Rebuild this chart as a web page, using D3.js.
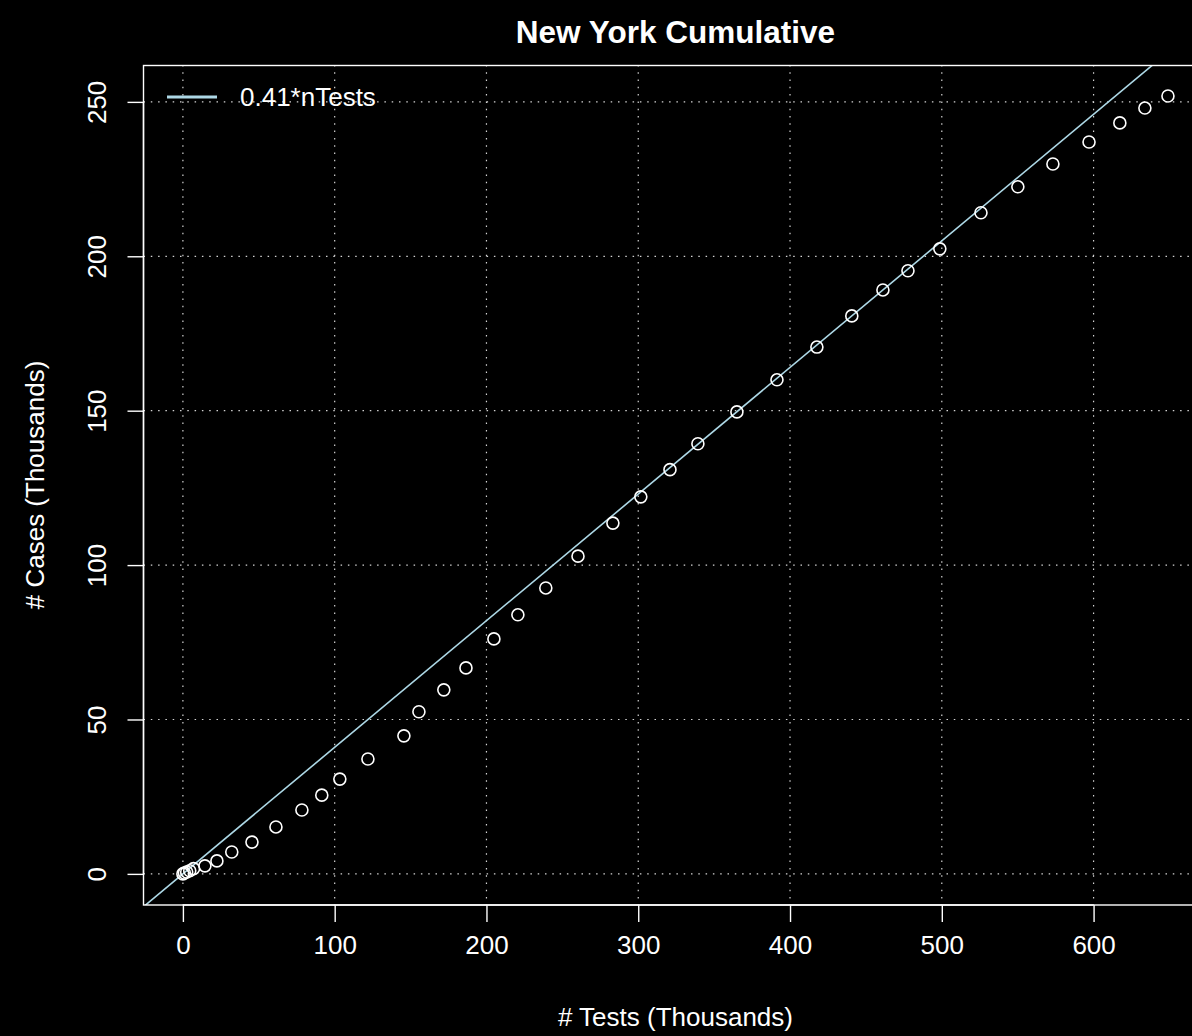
<!DOCTYPE html>
<html><head><meta charset="utf-8">
<script src="https://cdn.jsdelivr.net/npm/d3@7"></script>
<style>html,body{margin:0;padding:0;background:#000;}svg{display:block;}</style>
</head><body>
<script>
const testsK = [0, 1, 2.5, 4.5, 7, 14.5, 22.4, 32.2, 45.5, 61.3, 78.4, 91.5, 103.4, 121.9, 145.6, 155.5, 171.9, 186.5, 204.9, 220.7, 239.1, 260.3, 283.3, 301.7, 320.9, 339.3, 365.0, 391.4, 417.7, 440.7, 461.2, 477.7, 498.7, 525.8, 550.1, 573.2, 597.0, 617.3, 633.8, 649.0];
const casesK = [0, 0.3, 0.6, 1.0, 1.7, 2.6, 4.2, 7.1, 10.3, 15.2, 20.7, 25.5, 30.7, 37.2, 44.7, 52.5, 59.6, 66.7, 76.1, 83.9, 92.6, 102.9, 113.6, 122.1, 130.9, 139.3, 149.6, 160.0, 170.6, 180.7, 189.1, 195.3, 202.4, 214.1, 222.5, 229.9, 237.0, 243.2, 248.0, 251.9];
const slope = 0.41;
const xTicks = [0, 100, 200, 300, 400, 500, 600];
const yTicks = [0, 50, 100, 150, 200, 250];
const titleText = "New York Cumulative";
const xLabel = "# Tests (Thousands)";
const yLabel = "# Cases (Thousands)";
const legendLabel = "0.41*nTests";

const W = 1192, H = 1036;
const xmax = d3.max(testsK), ymax = d3.max(casesK);
const pxPerX = 1.5178, pxPerY = 3.088;
const L = 143.5, B = 905;
const R = L + 1.08 * xmax * pxPerX;
const T = B - 1.08 * ymax * pxPerY;
const font = "'Liberation Sans', Arial, Helvetica, sans-serif";
const fs = 26;

const svg = d3.select("body").append("svg").attr("width", W).attr("height", H)
  .style("background", "#000");
svg.append("rect").attr("width", W).attr("height", H).attr("fill", "#000");

const x = d3.scaleLinear().domain([-0.04 * xmax, 1.04 * xmax]).range([L, R]);
const y = d3.scaleLinear().domain([-0.04 * ymax, 1.04 * ymax]).range([B, T]);

svg.append("defs").append("clipPath").attr("id", "plotclip")
  .append("rect").attr("x", L).attr("y", T).attr("width", R - L).attr("height", B - T);

// grid
const grid = svg.append("g").attr("stroke", "#d3d3d3").attr("stroke-width", 1.2)
  .attr("stroke-dasharray", "1.5,5.8");
xTicks.forEach(t => grid.append("line").attr("x1", x(t)).attr("x2", x(t)).attr("y1", T).attr("y2", B));
yTicks.forEach(t => grid.append("line").attr("x1", L).attr("x2", R).attr("y1", y(t)).attr("y2", y(t)));

// fitted line
const xd = x.domain();
svg.append("line").attr("clip-path", "url(#plotclip)")
  .attr("x1", x(xd[0])).attr("y1", y(slope * xd[0]))
  .attr("x2", x(xd[1])).attr("y2", y(slope * xd[1]))
  .attr("stroke", "#add8e6").attr("stroke-width", 1.6);

// points
svg.append("g").selectAll("circle").data(testsK).join("circle")
  .attr("cx", (d) => x(d)).attr("cy", (d, i) => y(casesK[i])).attr("r", 6)
  .attr("fill", "none").attr("stroke", "#fff").attr("stroke-width", 1.6);

// box
svg.append("rect").attr("x", L).attr("y", Math.round(T) + 0.5).attr("width", R - L).attr("height", B - Math.round(T) - 0.5)
  .attr("fill", "none").attr("stroke", "#fff").attr("stroke-width", 1.4);

// x axis
const xAxis = d3.axisBottom(x).tickValues(xTicks).tickSize(17).tickPadding(14).tickFormat(d3.format("d"));
const gx = svg.append("g").attr("transform", `translate(0,${B})`).call(xAxis);
gx.select(".domain").attr("stroke", "#fff").attr("stroke-width", 1.4)
  .attr("d", `M${x(xTicks[0])},0H${x(xTicks[xTicks.length-1])}`);
gx.selectAll(".tick line").attr("stroke", "#fff").attr("stroke-width", 1.4);
gx.selectAll(".tick text").attr("fill", "#fff").style("font-family", font).style("font-size", fs + "px");

// y axis
const yAxis = d3.axisLeft(y).tickValues(yTicks).tickSize(16).tickPadding(0).tickFormat(d3.format("d"));
const gy = svg.append("g").attr("transform", `translate(${L},0)`).call(yAxis);
gy.select(".domain").attr("stroke", "#fff").attr("stroke-width", 1.4)
  .attr("d", `M0,${y(yTicks[0])}V${y(yTicks[yTicks.length-1])}`);
gy.selectAll(".tick line").attr("stroke", "#fff").attr("stroke-width", 1.4);
gy.selectAll(".tick text").attr("fill", "#fff").style("font-family", font).style("font-size", fs + "px")
  .attr("x", 0).attr("text-anchor", "middle")
  .attr("transform", "translate(-47,0) rotate(-90)").attr("dy", "0.35em");

// title and labels
const cx = (L + R) / 2;
svg.append("text").attr("x", cx).attr("y", 43).attr("text-anchor", "middle")
  .attr("fill", "#fff").style("font-family", font).style("font-size", "31.5px").style("font-weight", "bold")
  .text(titleText);
svg.append("text").attr("x", cx).attr("y", 1026).attr("text-anchor", "middle")
  .attr("fill", "#fff").style("font-family", font).style("font-size", fs + "px").text(xLabel);
svg.append("text").attr("transform", `translate(44,${(T + B) / 2}) rotate(-90)`).attr("text-anchor", "middle")
  .attr("fill", "#fff").style("font-family", font).style("font-size", fs + "px").text(yLabel);

// legend
svg.append("line").attr("x1", 167).attr("x2", 217).attr("y1", 97).attr("y2", 97)
  .attr("stroke", "#add8e6").attr("stroke-width", 3.2);
svg.append("text").attr("x", 240).attr("y", 97).attr("dy", "0.35em")
  .attr("fill", "#fff").style("font-family", font).style("font-size", fs + "px").text(legendLabel);
</script>
</body></html>
